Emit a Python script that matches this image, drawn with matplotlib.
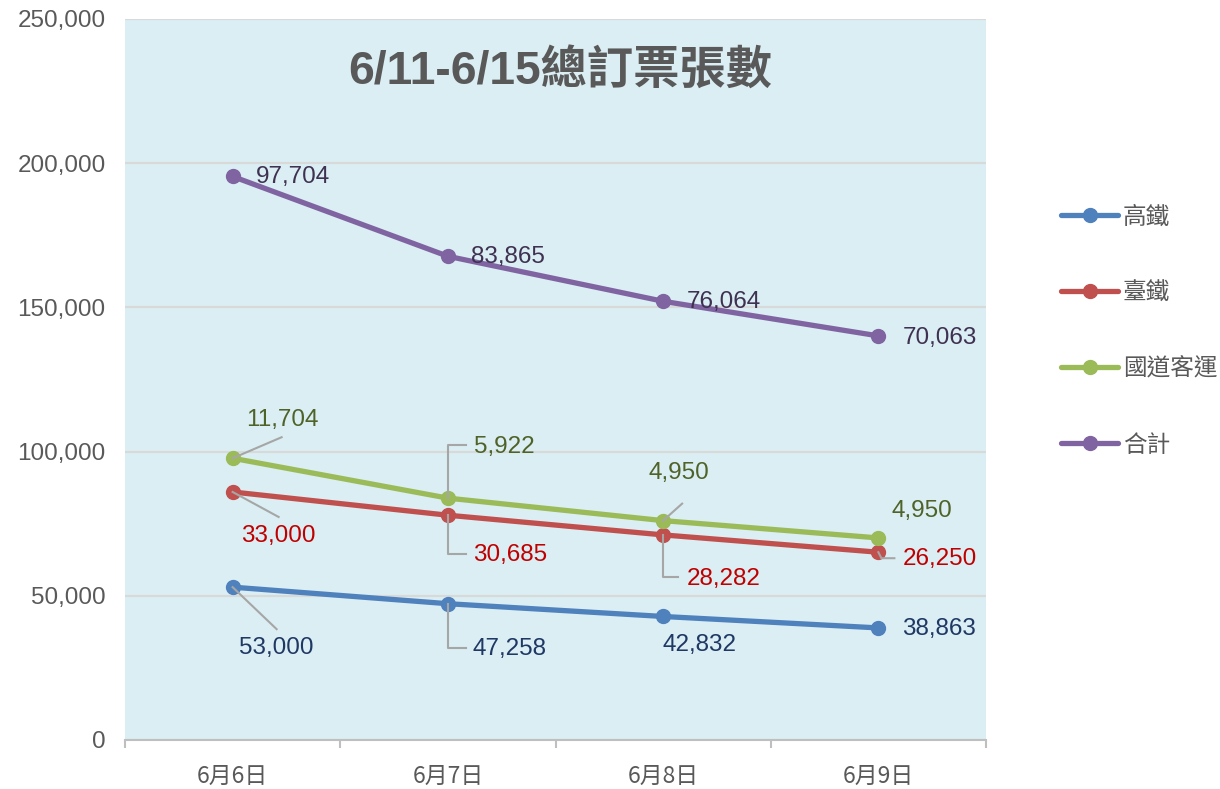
import matplotlib
matplotlib.use('Agg')
import matplotlib.pyplot as plt
from matplotlib.lines import Line2D
from matplotlib.ticker import FuncFormatter, FixedLocator
import numpy as np

dates = ['6月6日', '6月7日', '6月8日', '6月9日']
names = ['高鐵', '臺鐵', '國道客運', '合計']
hsr = [53000, 47258, 42832, 38863]
tra = [33000, 30685, 28282, 26250]
bus = [11704, 5922, 4950, 4950]
total = [97704, 83865, 76064, 70063]
series = [hsr, tra, bus, total]

line_colors = ['#4F81BD', '#C0504D', '#9BBB59', '#8064A2']
label_colors = ['#1F3864', '#C00000', '#4F6228', '#3F3151']
grey = '#595959'
num_font = ['Liberation Sans', 'DejaVu Sans']
cjk_font = ['Noto Sans CJK TC', 'DejaVu Sans']

# label placement: (dx, dy, ha) in pixels from the point, and leader line vertices
label_pos = [
    [(44, -61, 'center'), (25, -45, 'left'), (36, -29, 'center'), (24, -1, 'left')],
    [(46, -44, 'center'), (25, -40, 'left'), (24, -44, 'left'), (24, -7, 'left')],
    [(50, 38, 'center'), (26, 51, 'left'), (16, 48, 'center'), (13, 27, 'left')],
    [(23, -1, 'left'), (23, -1, 'left'), (24, -1, 'left'), (24, -2, 'left')],
]
leaders = [
    [[(0, 0), (44, -42)], [(0, 0), (0, -44), (18, -44)], None, None],
    [[(0, 0), (46, -25)], [(0, 0), (0, -39), (18, -39)], [(0, 0), (0, -42), (15, -42)], [(0, 0), (3, -6), (16, -6)]],
    [[(0, 0), (49, 21)], [(0, 0), (0, 53), (18, 53)], [(0, 0), (19, 17)], None],
    [None, None, None, None],
]

fig = plt.figure(figsize=(12.2, 7.89), dpi=100)
ax = fig.add_axes([125 / 1220, 49 / 789, 861 / 1220, 721 / 789])
ax.set_facecolor('#DAEEF3')

x = np.arange(len(dates))
stacked = np.cumsum(np.array(series), axis=0)

for i in range(4):
    ax.plot(x, stacked[i], color=line_colors[i], lw=3.8, marker='o', ms=10,
            solid_capstyle='round', zorder=3, label=names[i])

ax.set_xlim(-0.5, 3.5)
ax.set_ylim(0, 250000)
ax.set_yticks(np.arange(0, 250001, 50000))
ax.yaxis.set_major_formatter(FuncFormatter(lambda v, p: f'{int(v):,}'))
ax.grid(axis='y', color='#D9D9D9', lw=1.5, zorder=1)
ax.set_axisbelow(True)
for s in ['left', 'right', 'top']:
    ax.spines[s].set_visible(False)
ax.spines['bottom'].set_color('#BFBFBF')
ax.spines['bottom'].set_linewidth(1.5)
ax.tick_params(axis='y', length=0, pad=14, labelcolor=grey)
for t in ax.get_yticklabels():
    t.set_fontfamily(num_font)
    t.set_fontsize(17.5)

ax.set_xticks(x)
ax.set_xticklabels(dates, fontfamily=cjk_font, fontsize=16.5, color=grey)
ax.tick_params(axis='x', which='major', length=0, pad=18)
ax.xaxis.set_minor_locator(FixedLocator([-0.5, 0.5, 1.5, 2.5, 3.5]))
ax.tick_params(axis='x', which='minor', length=6, width=1.5, color='#BFBFBF')

ax.text(0.505, 0.926, '6/11-6/15總訂票張數', transform=ax.transAxes, ha='center', va='center',
        fontsize=33.3, fontweight='bold', color=grey, family=['Liberation Sans', 'Noto Sans CJK TC'])

# data labels and leader lines
for i in range(4):
    for j in range(4):
        px, py = ax.transData.transform((x[j], stacked[i][j]))
        dx, dy, ha = label_pos[i][j]
        ax.annotate(f'{series[i][j]:,}', (x[j], stacked[i][j]), xytext=(dx, dy),
                    textcoords='offset pixels', ha=ha, va='center', fontsize=17.5,
                    color=label_colors[i], fontfamily=num_font, zorder=5)
        if leaders[i][j]:
            pts = leaders[i][j]
            fig.lines.append(Line2D([px + a for a, b in pts], [py + b for a, b in pts],
                                    transform=None, color='#A6A6A6', lw=1.5, zorder=4))

leg = fig.legend(loc='center left', bbox_to_anchor=(1040 / 1220, 1 - 331 / 789), frameon=False,
                 handlelength=2.4, handletextpad=0.2, labelspacing=2.25,
                 prop={'family': cjk_font, 'size': 17})
for t in leg.get_texts():
    t.set_color(grey)

fig.savefig('out.png', dpi=100)
